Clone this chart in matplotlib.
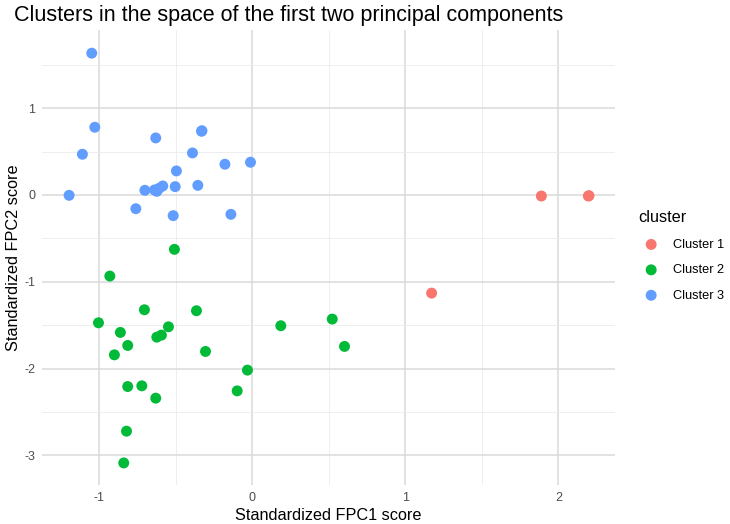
import matplotlib
matplotlib.use("Agg")
import matplotlib.pyplot as plt
from matplotlib.ticker import MultipleLocator

plt.rcParams['font.family'] = ['Liberation Sans', 'DejaVu Sans']
plt.rcParams['axes.unicode_minus'] = False

cluster_names = ["Cluster 1", "Cluster 2", "Cluster 3"]
cluster_colors = ["#F8766D", "#00BA38", "#619CFF"]

c1_x = [1.889, 2.196, 2.200, 1.172]
c1_y = [-0.012, -0.012, -0.008, -1.130]

c2_x = [-0.508, -0.930, -0.704, -0.364, -1.004, -0.861, -0.547, -0.623, -0.593,
        -0.813, -0.900, -0.305, 0.187, 0.523, 0.603, -0.031, -0.813, -0.721,
        -0.630, -0.098, -0.821, -0.839]
c2_y = [-0.626, -0.934, -1.322, -1.333, -1.472, -1.583, -1.518, -1.637, -1.614,
        -1.733, -1.841, -1.802, -1.506, -1.429, -1.744, -2.017, -2.206, -2.198,
        -2.340, -2.256, -2.720, -3.086]

c3_x = [-1.048, -1.028, -0.630, -0.331, -0.328, -1.109, -0.390, -0.178, -0.011,
        -0.495, -1.196, -0.701, -0.638, -0.623, -0.608, -0.584, -0.503, -0.355,
        -0.760, -0.516, -0.139]
c3_y = [1.633, 0.780, 0.657, 0.734, 0.740, 0.469, 0.484, 0.354, 0.377,
        0.277, -0.004, 0.054, 0.058, 0.042, 0.077, 0.104, 0.096, 0.111,
        -0.158, -0.238, -0.223]

xs = [c1_x, c2_x, c3_x]
ys = [c1_y, c2_y, c3_y]

fig = plt.figure(figsize=(7.30, 5.24), dpi=100)
ax = fig.add_axes([42/730, 1 - 485/524, (615-42)/730, (485-30)/524])

for name, col, x, y in zip(cluster_names, cluster_colors, xs, ys):
    ax.scatter(x, y, s=62, color=col, edgecolors='none', label=name, zorder=3)

ax.set_xlim(-1.373, 2.37)
ax.set_ylim(-3.34, 1.90)
ax.xaxis.set_major_locator(MultipleLocator(1))
ax.yaxis.set_major_locator(MultipleLocator(1))
ax.xaxis.set_minor_locator(MultipleLocator(0.5))
ax.yaxis.set_minor_locator(MultipleLocator(0.5))
ax.grid(which='major', color='#DADADA', linewidth=1.1, zorder=0)
ax.grid(which='minor', color='#EBEBEB', linewidth=0.6, zorder=0)
ax.set_axisbelow(True)
for s in ax.spines.values():
    s.set_visible(False)
ax.tick_params(which='both', length=0)
ax.tick_params(axis='both', labelsize=9, labelcolor='#4D4D4D', pad=5)

ax.set_xlabel("Standardized FPC1 score", fontsize=11.7, labelpad=3)
ax.set_ylabel("Standardized FPC2 score", fontsize=11.7, labelpad=2)
fig.text(14/730, 1 - 16/524, "Clusters in the space of the first two principal components",
         fontsize=15.5, ha='left', va='center')

leg = ax.legend(title="cluster", loc='center left', bbox_to_anchor=(632/730, 1 - 256/524),
                bbox_transform=fig.transFigure, frameon=False, fontsize=9.2,
                title_fontsize=11.7, handletextpad=0.7, labelspacing=1.05, markerscale=1.0,
                borderpad=0)
leg._legend_box.align = "left"

fig.savefig("out.png", dpi=100)
